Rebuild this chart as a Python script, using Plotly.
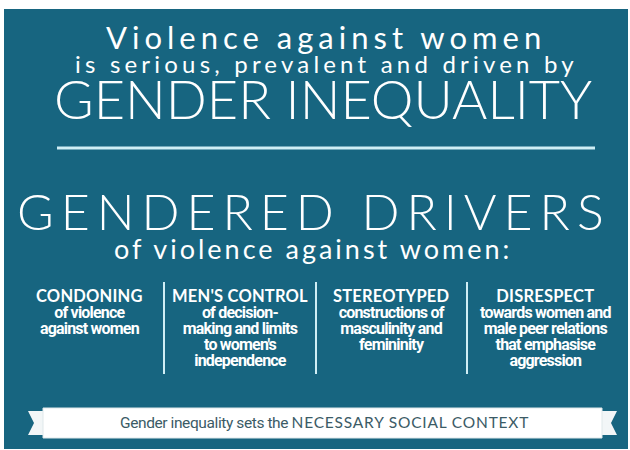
import plotly.graph_objects as go

# ---- content ----
title_lines = ["Violence against women", "is serious, prevalent and driven by", "GENDER INEQUALITY"]
section_title = "GENDERED DRIVERS"
section_sub = "of violence against women:"
driver_heads = ["CONDONING", "MEN'S CONTROL", "STEREOTYPED", "DISRESPECT"]
driver_bodies = [
    ["of violence", "against women"],
    ["of decision-", "making and limits", "to women's", "independence"],
    ["constructions of", "masculinity and", "femininity"],
    ["towards women and", "male peer relations", "that emphasise", "aggression"],
]
banner_lead = "Gender inequality sets the"
banner_caps = "NECESSARY SOCIAL CONTEXT"

# ---- layout constants ----
W, H = 630, 450
TEAL = "#176580"
WHITE = "#ffffff"
LINE = "#cfeef5"
col_x = [89, 240, 391, 545]
div_x = [164, 316, 467]

fig = go.Figure()
fig.add_trace(go.Scatter(x=[0, W], y=[0, H], mode="markers", marker=dict(opacity=0), hoverinfo="skip", showlegend=False))

shapes = []
shapes.append(dict(type="rect", x0=4, x1=628, y0=9, y1=449, fillcolor=TEAL, line=dict(width=0), layer="below"))
shapes.append(dict(type="line", x0=57, x1=595, y0=148, y1=148, line=dict(color=LINE, width=3)))
for dx in div_x:
    shapes.append(dict(type="line", x0=dx, x1=dx, y0=282, y1=374, line=dict(color=LINE, width=2)))
# banner ribbon tails
shapes.append(dict(type="path", path="M 28 411 L 43 411 L 43 435 L 28 435 L 34 423 Z", fillcolor="#f2f6f7", line=dict(width=0)))
shapes.append(dict(type="path", path="M 602 411 L 617 411 L 611 423 L 617 435 L 602 435 Z", fillcolor="#f2f6f7", line=dict(width=0)))
shapes.append(dict(type="rect", x0=43, x1=602, y0=408, y1=438, fillcolor=WHITE, line=dict(color="#dfe8ea", width=1)))

ann = []
def add(text, x, y, size, family="Lato", color=WHITE, spacing=0, weight="normal", yanchor="middle"):
    t = text
    if spacing:
        t = f'<span style="letter-spacing:{spacing}px">{t}</span>'
    ann.append(dict(text=t, x=x, y=y, xref="x", yref="y", showarrow=False, xanchor="center", yanchor=yanchor,
                    font=dict(size=size, family=family, color=color, weight=weight)))

add(title_lines[0], 326, 37, 31, spacing=5)
add(title_lines[1], 326, 63, 24, spacing=4.2)
add(title_lines[2], 323, 98, 54, weight=300)
add(section_title, 314, 211, 50, spacing=7, weight=300)
add(section_sub, 313, 248, 27, spacing=3)

# driver columns: one text block per column, line pitch 16px (base 12.3px * 1.3)
head_style = "font-family:Lato;font-weight:bold;font-size:16.5px;letter-spacing:0.2px"
body_style = "font-family:Roboto;font-weight:bold;font-size:16px;letter-spacing:-0.8px"
for i, cx in enumerate(col_x):
    parts = [f'<span style="{head_style}">{driver_heads[i]}</span>']
    parts += [f'<span style="{body_style}">{ln}</span>' for ln in driver_bodies[i]]
    ann.append(dict(text="<br>".join(parts), x=cx, y=284, xref="x", yref="y", showarrow=False,
                    xanchor="center", yanchor="top", align="center",
                    font=dict(size=12.3, family="Roboto", color=WHITE, weight="bold")))

banner = (f'<span style="font-family:Roboto;letter-spacing:-0.4px">{banner_lead} </span>'
          f'<span style="font-family:Lato;letter-spacing:0.8px">{banner_caps}</span>')
add(banner, 324, 422, 15.5, family="Roboto", color="#3b5b66")

fig.update_layout(
    width=W, height=H, margin=dict(l=0, r=0, t=0, b=0),
    paper_bgcolor=WHITE, plot_bgcolor=WHITE,
    xaxis=dict(range=[0, W], visible=False, fixedrange=True),
    yaxis=dict(range=[H, 0], visible=False, fixedrange=True),
    shapes=shapes, annotations=ann, showlegend=False,
)
fig.write_html("out.html", config={"displayModeBar": False},
               post_script="document.body.style.margin='0';document.body.style.overflow='hidden';")
